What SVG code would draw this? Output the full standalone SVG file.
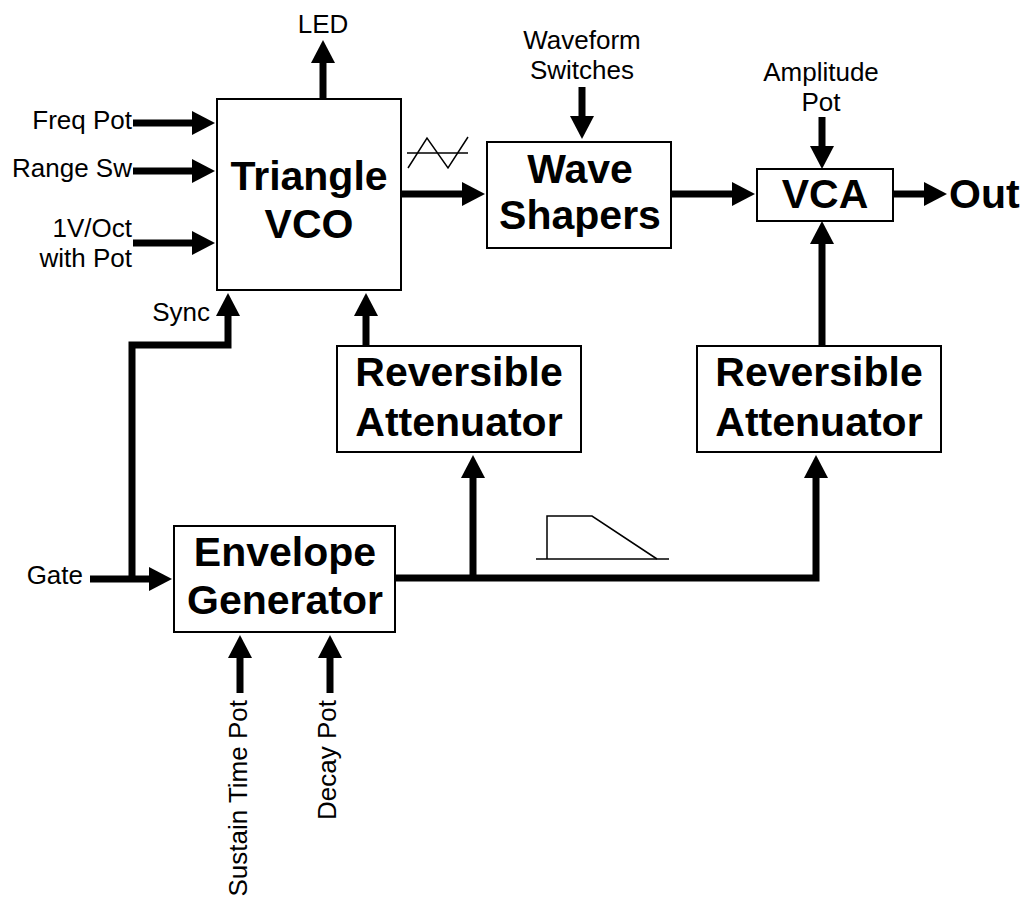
<svg xmlns="http://www.w3.org/2000/svg" width="1024" height="902" viewBox="0 0 1024 902">
<style>
.box{fill:#fff;stroke:#000;stroke-width:2}
.big{font-family:"Liberation Sans",Arial,sans-serif;font-weight:bold;font-size:41px;fill:#000;text-anchor:middle}
.lbl{font-family:"Liberation Sans",Arial,sans-serif;font-size:26px;fill:#000}
.w{fill:none;stroke:#000;stroke-width:7;stroke-linejoin:miter;stroke-linecap:butt}
.a{marker-end:url(#ah)}
.thin{fill:none;stroke:#000;stroke-width:1.5}
</style>
<defs>
<marker id="ah" viewBox="-1 -12 23 24" refX="0" refY="0" markerWidth="23" markerHeight="24" markerUnits="userSpaceOnUse" orient="auto" overflow="visible">
<path d="M-1,-12 L22,0 L-1,12 z" fill="#000"/>
</marker>
</defs>
<rect width="1024" height="902" fill="#fff"/>
<g id="connectors">
<path class="w a" d="M323,99 V62"/>
<path class="w a" d="M133,123 H193"/>
<path class="w a" d="M133,171 H193"/>
<path class="w a" d="M133,243 H193"/>
<path class="w a" d="M132,579 V345 H228 V315"/>
<path class="w a" d="M366,346 V315"/>
<path class="w a" d="M401,194 H463"/>
<path class="w a" d="M582,87 V117"/>
<path class="w a" d="M671,194 H733"/>
<path class="w a" d="M822,117 V147"/>
<path class="w a" d="M893,194 H925"/>
<path class="w a" d="M822,346 V243"/>
<path class="w a" d="M90,579 H150"/>
<path class="w a" d="M395,578 H816 V477"/>
<path class="w a" d="M473,578 V477"/>
<path class="w a" d="M240,693 V657"/>
<path class="w a" d="M330,693 V657"/>
</g>
<g id="vco">
<rect class="box" x="217" y="99" width="184" height="191"/>
<text class="big" x="309" y="190">Triangle</text>
<text class="big" x="309" y="238">VCO</text>
</g>
<g id="waveshapers">
<rect class="box" x="487" y="142" width="184" height="106"/>
<text class="big" x="580" y="183">Wave</text>
<text class="big" x="580" y="229">Shapers</text>
</g>
<g id="vca">
<rect class="box" x="757" y="169" width="136" height="52"/>
<text class="big" x="825" y="208">VCA</text>
</g>
<g id="atten1">
<rect class="box" x="337" y="346" width="244" height="106"/>
<text class="big" x="459" y="386">Reversible</text>
<text class="big" x="459" y="436">Attenuator</text>
</g>
<g id="atten2">
<rect class="box" x="697" y="346" width="244" height="106"/>
<text class="big" x="819" y="386">Reversible</text>
<text class="big" x="819" y="436">Attenuator</text>
</g>
<g id="envgen">
<rect class="box" x="174" y="526" width="221" height="106"/>
<text class="big" x="285" y="566">Envelope</text>
<text class="big" x="285" y="614">Generator</text>
</g>
<g id="labels">
<text class="lbl" x="323" y="33" text-anchor="middle">LED</text>
<text class="lbl" x="132" y="129" text-anchor="end">Freq Pot</text>
<text class="lbl" x="132" y="177" text-anchor="end">Range Sw</text>
<text class="lbl" x="132" y="237" text-anchor="end">1V/Oct</text>
<text class="lbl" x="132" y="267" text-anchor="end">with Pot</text>
<text class="lbl" x="210" y="321" text-anchor="end">Sync</text>
<text class="lbl" x="83" y="584" text-anchor="end">Gate</text>
<text class="lbl" x="582" y="49" text-anchor="middle">Waveform</text>
<text class="lbl" x="582" y="79" text-anchor="middle">Switches</text>
<text class="lbl" x="821" y="81" text-anchor="middle">Amplitude</text>
<text class="lbl" x="821" y="111" text-anchor="middle">Pot</text>
<text class="big" x="949" y="208" style="text-anchor:start">Out</text>
<text class="lbl" transform="translate(247,700) rotate(-90)" text-anchor="end">Sustain Time Pot</text>
<text class="lbl" transform="translate(336,700) rotate(-90)" text-anchor="end">Decay Pot</text>
</g>
<g id="triangle-symbol">
<line class="thin" x1="407" y1="153" x2="468" y2="153" stroke-width="1.2"/>
<polyline class="thin" points="408,168 427,138 448,168 468,137" stroke-width="1.2"/>
</g>
<g id="envelope-symbol">
<polyline class="thin" points="536,559 669,559"/>
<polyline class="thin" points="547,559 547,516 592,516 657,559"/>
</g>
</svg>
